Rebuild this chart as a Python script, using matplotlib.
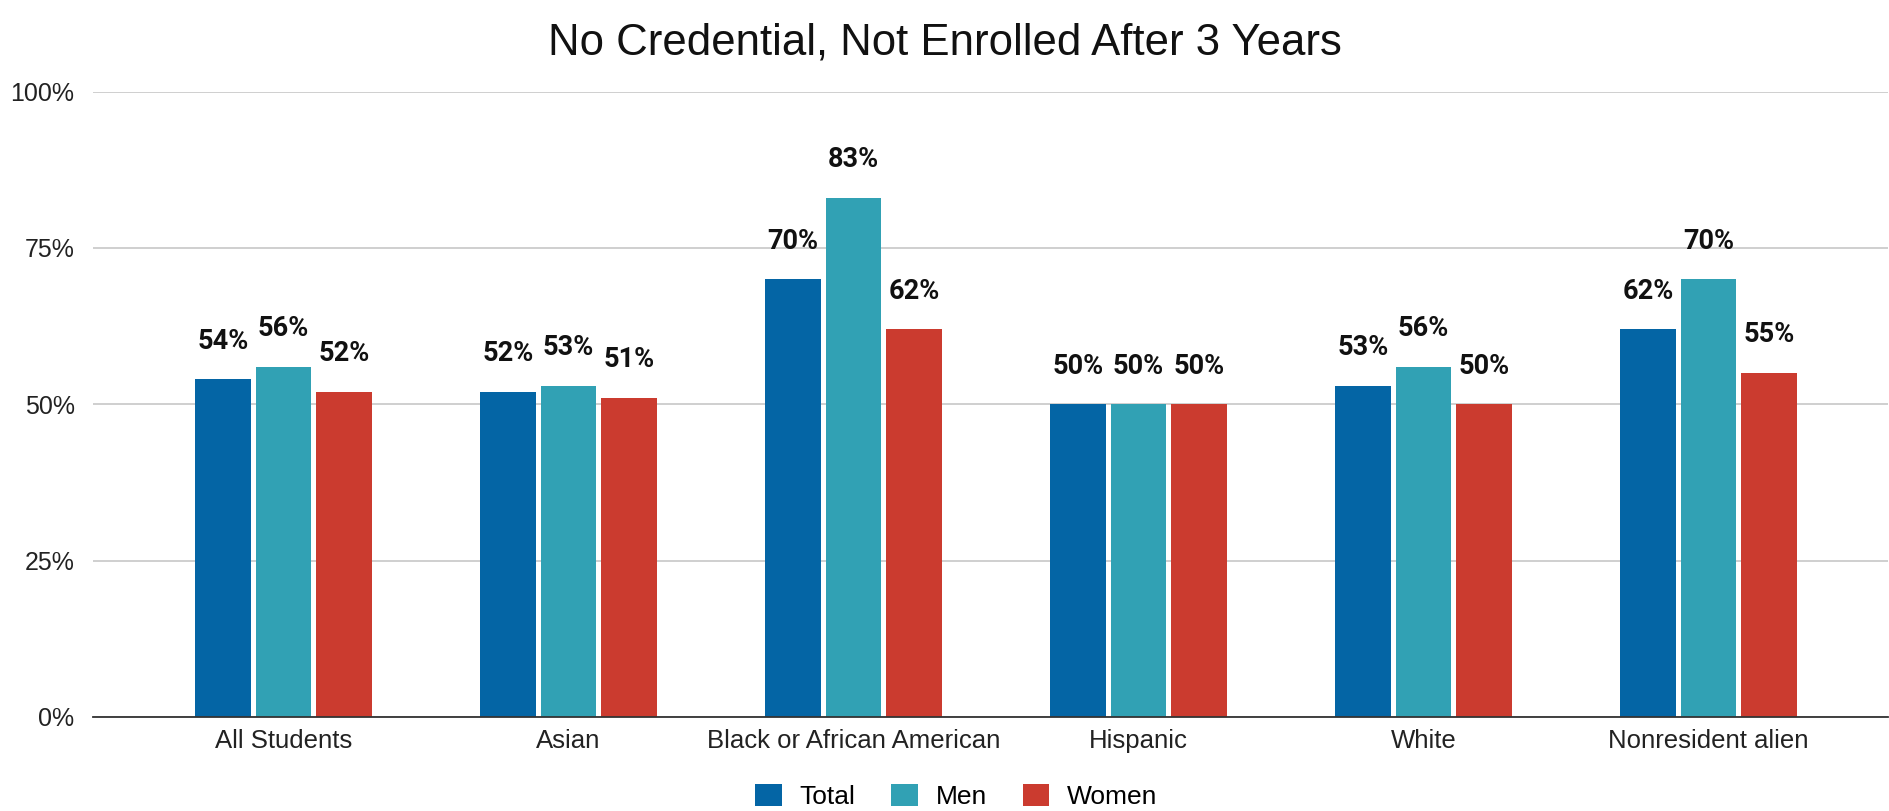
import numpy as np
import matplotlib.pyplot as plt
from matplotlib.patches import Patch

# -----------------------------
# Data
# -----------------------------
categories = ["All Students", "Asian", "Black or African American", "Hispanic", "White", "Nonresident alien"]
total = [0.54, 0.52, 0.70, 0.50, 0.53, 0.62]
men = [0.56, 0.53, 0.83, 0.50, 0.56, 0.70]
women = [0.52, 0.51, 0.62, 0.50, 0.50, 0.55]
series_names = ["Total", "Men", "Women"]
colors = ["#0465a5", "#31a1b4", "#cb3b2f"]

plt.rcParams['font.family'] = ['Liberation Sans', 'DejaVu Sans']

fig = plt.figure(figsize=(18.9, 8.11), dpi=100)
ax = fig.add_axes([0.049, 0.116, 0.95, 0.771])

x = np.arange(len(categories))
width = 0.195
offset = 0.213

for i, (vals, name, c) in enumerate(zip([total, men, women], series_names, colors)):
    pos = x + (i - 1) * offset
    ax.bar(pos, vals, width, color=c, label=name, zorder=3)
    for xp, v in zip(pos, vals):
        ax.text(xp, v + 0.061, f"{v:.0%}", ha='center', va='center',
                fontsize=19.5, fontweight='bold', family='Roboto', color='#111111', zorder=4)

ax.set_xlim(-0.67, 5.63)
ax.set_ylim(0, 1.0)
ax.set_yticks([0, 0.25, 0.5, 0.75, 1.0])
ax.set_yticklabels(["0%", "25%", "50%", "75%", "100%"], fontsize=18, color='#222222')
ax.set_xticks(x)
ax.set_xticklabels(categories, fontsize=18.5, color='#222222')
ax.tick_params(axis='y', length=0, pad=13)
ax.tick_params(axis='x', length=0, pad=9)

ax.grid(axis='y', color='#cccccc', linewidth=1.3, zorder=0)
for s in ['top', 'right', 'left']:
    ax.spines[s].set_visible(False)
ax.spines['bottom'].set_color('#333333')
ax.spines['bottom'].set_linewidth(1.3)
ax.spines['bottom'].set_zorder(5)

fig.suptitle("No Credential, Not Enrolled After 3 Years", fontsize=31.5, y=0.972, color='#111111')

handles = [Patch(facecolor=c, label=n) for c, n in zip(colors, series_names)]
fig.legend(handles=handles, loc='center', bbox_to_anchor=(0.506, 0.018), ncol=3, frameon=False,
           fontsize=19, handlelength=1.0, handleheight=0.95, columnspacing=1.36, handletextpad=0.68)

plt.savefig("out.png", dpi=100)
